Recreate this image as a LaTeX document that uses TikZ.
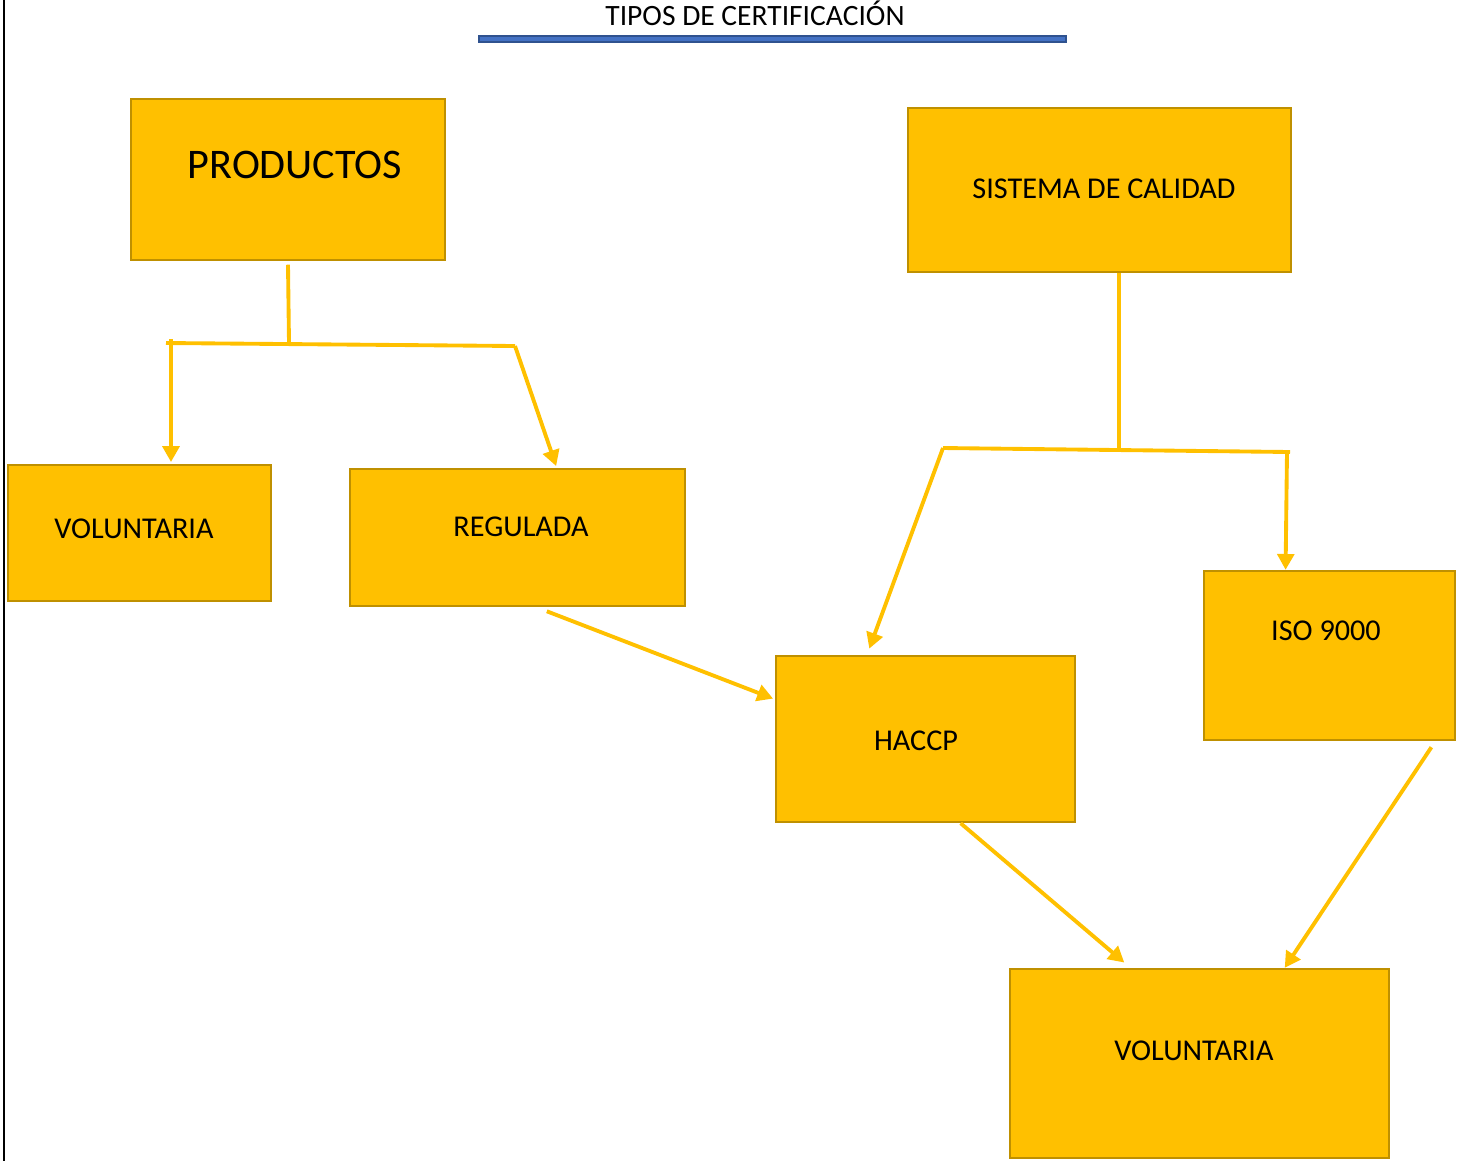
\documentclass[tikz,border=0pt]{standalone}
\usepackage{fontspec}
\setmainfont{Carlito}
\usetikzlibrary{arrows.meta}
\definecolor{gold}{HTML}{FFC000}
\definecolor{golddark}{HTML}{BF9000}
\definecolor{titleblue}{HTML}{4472C4}
\definecolor{titleedge}{HTML}{2F528F}
\tikzset{
  box/.style={draw=golddark, fill=gold, line width=1.4pt, inner sep=0pt},
  lab/.style={font=\fontsize{17.2}{20}\selectfont, anchor=base, inner sep=0pt},
  conn/.style={draw=gold, line width=2.2pt},
  arr/.style={conn, -{Triangle[width=9.5pt,length=9pt]}}
}
\begin{document}
\begin{tikzpicture}[x=0.02cm,y=-0.02cm]
\useasboundingbox (0,0) rectangle (1457,1161);
\draw[black, line width=1.3pt] (4,0) -- (4,1161);

% title
\node[lab, font=\fontsize{16.8}{20}\selectfont] (title) at (755,25) {TIPOS DE CERTIFICACIÓN};
\draw[fill=titleblue, draw=titleedge, line width=0.8pt] (479,36) rectangle (1066,42);

% boxes
\node[box, minimum width=6.28cm, minimum height=3.22cm] (prod) at (288,179.5) {};
\node[box, minimum width=7.66cm, minimum height=3.28cm] (sis) at (1099.5,190) {};
\node[box, minimum width=5.26cm, minimum height=2.72cm] (vol1) at (139.5,533) {};
\node[box, minimum width=6.70cm, minimum height=2.74cm] (reg) at (517.5,537.5) {};
\node[box, minimum width=5.02cm, minimum height=3.38cm] (iso) at (1329.5,655.5) {};
\node[box, minimum width=5.98cm, minimum height=3.32cm] (hac) at (925.5,739) {};
\node[box, minimum width=7.58cm, minimum height=3.78cm] (vol2) at (1199.5,1063.5) {};

% texts
\node[lab, font=\fontsize{24}{28}\selectfont] (prodt) at (295,178) {PRODUCTOS};
\node[lab] (sist) at (1104,198) {SISTEMA DE CALIDAD};
\node[lab] (vol1t) at (134,538) {VOLUNTARIA};
\node[lab] (regt) at (521,536) {REGULADA};
\node[lab] (isot) at (1326,640) {ISO 9000};
\node[lab] (hact) at (916,750) {HACCP};
\node[lab] (vol2t) at (1194,1060) {VOLUNTARIA};

% productos branch
\coordinate (pj) at (289,343);
\coordinate (pl) at (166,343);
\coordinate (pr) at (515,346);
\coordinate (pv) at (171,339);
\draw[conn] ([yshift=-2pt]prod.south) -- (pj);
\draw[conn] (pl) -- (pr);
\draw[arr] (pv) -- ([yshift=1pt]pv |- vol1.north);
\draw[arr] (pr) -- ([xshift=22pt,yshift=1pt]reg.north);

% sistema branch
\coordinate (sj) at (1119,450);
\coordinate (sl) at (943,448);
\coordinate (sr) at (1290,452);
\coordinate (sd) at (1287,452);
\draw[conn] (sj |- sis.south) -- (sj);
\draw[conn] (sl) -- (sr);
\draw[arr] (sl) -- ([xshift=-32pt,yshift=3.5pt]hac.north);
\draw[arr] (sd) -- ([xshift=-25pt,yshift=0pt]iso.north);

% lower arrows
\draw[arr] ([xshift=16.7pt,yshift=-2.3pt]reg.south) -- ([xshift=-1pt,yshift=23pt]hac.west);
\draw[arr] ([xshift=20pt]hac.south) -- ([xshift=-42.8pt,yshift=3pt]vol2.north);
\draw[arr] ([xshift=58pt,yshift=-3.4pt]iso.south) -- ([xshift=48.5pt]vol2.north);

\end{tikzpicture}
\end{document}
